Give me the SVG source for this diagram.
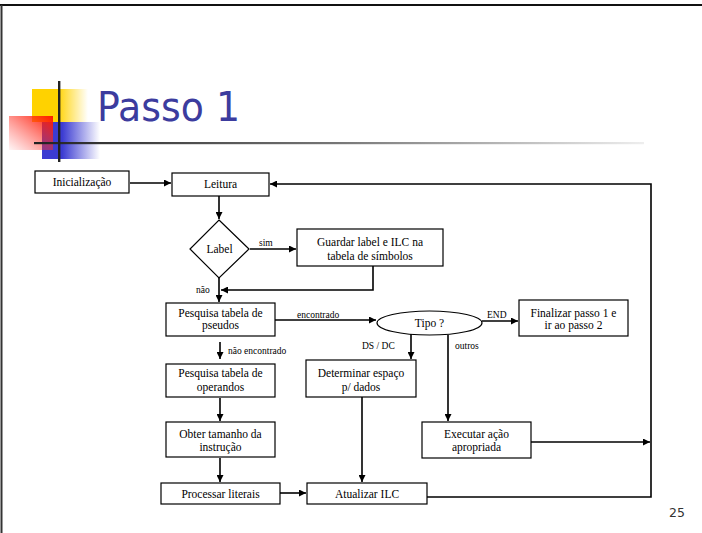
<svg xmlns="http://www.w3.org/2000/svg" width="702" height="533" viewBox="0 0 702 533">
<style>
.box{fill:#fff;stroke:#000;stroke-width:1.2}
.t{font-size:11.5px;fill:#000;text-anchor:middle}
.s{font-size:9.5px;fill:#000}
.c{fill:none;stroke:#000;stroke-width:1.6}
</style>
<defs>
<marker id="ah" viewBox="0 0 10 10" refX="10" refY="5" markerWidth="7" markerHeight="7" markerUnits="userSpaceOnUse" orient="auto">
<path d="M0,0 L10,5 L0,10 z" fill="#000"/>
</marker>
<linearGradient id="gy" x1="0" y1="0" x2="1" y2="0">
<stop offset="0" stop-color="#FFD200"/><stop offset="0.45" stop-color="#FFD200"/><stop offset="1" stop-color="#FFD200" stop-opacity="0"/>
</linearGradient>
<linearGradient id="gb" x1="0" y1="0" x2="1" y2="0">
<stop offset="0" stop-color="#3C3CD2"/><stop offset="0.35" stop-color="#3C3CD2"/><stop offset="1" stop-color="#3C3CD2" stop-opacity="0"/>
</linearGradient>
<linearGradient id="gr" x1="1" y1="0" x2="0" y2="1">
<stop offset="0" stop-color="#FF1A00"/><stop offset="1" stop-color="#FF4040" stop-opacity="0.05"/>
</linearGradient>
<linearGradient id="gl" x1="0" y1="0" x2="1" y2="0">
<stop offset="0" stop-color="#222"/><stop offset="0.5" stop-color="#777"/><stop offset="1" stop-color="#eee"/>
</linearGradient>
</defs>

<g id="frame">
<line x1="0" y1="5" x2="702" y2="5" stroke="#111" stroke-width="2"/>
<line x1="1.5" y1="5" x2="1.5" y2="533" stroke="#333" stroke-width="2"/>
</g>

<g id="title-deco">
<rect x="32" y="89" width="56" height="33" fill="url(#gy)"/>
<rect x="42" y="122" width="58" height="37" fill="url(#gb)"/>
<rect x="9" y="116" width="44" height="34" fill="url(#gr)"/>
<rect x="34" y="142" width="610" height="2.2" fill="url(#gl)"/>
<rect x="58" y="81" width="2.4" height="81" fill="#222"/>
<text x="97" y="121" font-family="DejaVu Sans, sans-serif" font-size="40" fill="#3C3C9E" textLength="143" lengthAdjust="spacingAndGlyphs">Passo 1</text>
</g>

<g font-family="Liberation Serif, DejaVu Serif, serif">
<g id="connectors">
<line class="c" x1="130" y1="183" x2="171" y2="183" marker-end="url(#ah)"/>
<polyline class="c" points="427,497 651,497 651,184 270,184" marker-end="url(#ah)"/>
<line class="c" x1="531" y1="442" x2="650" y2="442" marker-end="url(#ah)"/>
<line class="c" x1="219" y1="196" x2="219" y2="219" marker-end="url(#ah)"/>
<line class="c" x1="250" y1="249" x2="296" y2="249" marker-end="url(#ah)"/>
<polyline class="c" points="373,266 373,290 221,290" marker-end="url(#ah)"/>
<line class="c" x1="219" y1="278" x2="219" y2="302" marker-end="url(#ah)"/>
<line class="c" x1="275" y1="320" x2="376" y2="320" marker-end="url(#ah)"/>
<line class="c" x1="482" y1="321" x2="518" y2="321" marker-end="url(#ah)"/>
<line class="c" x1="411" y1="334" x2="411" y2="359" marker-end="url(#ah)"/>
<line class="c" x1="448" y1="335" x2="448" y2="421" marker-end="url(#ah)"/>
<line class="c" x1="220" y1="342" x2="220" y2="359" marker-end="url(#ah)"/>
<line class="c" x1="220" y1="398" x2="220" y2="421" marker-end="url(#ah)"/>
<line class="c" x1="220" y1="458" x2="220" y2="482" marker-end="url(#ah)"/>
<line class="c" x1="280" y1="493" x2="306" y2="493" marker-end="url(#ah)"/>
<line class="c" x1="362" y1="397" x2="362" y2="482" marker-end="url(#ah)"/>
<text class="s" x="259" y="246">sim</text>
<text class="s" x="196" y="293">não</text>
<text class="s" x="297" y="318">encontrado</text>
<text class="s" x="487" y="318">END</text>
<text class="s" x="362" y="349">DS / DC</text>
<text class="s" x="455" y="349">outros</text>
<text class="s" x="228" y="354">não encontrado</text>
</g>

<g id="inicializacao"><rect class="box" x="35" y="171" width="94" height="22"/><text class="t" x="82" y="186">Inicialização</text></g>
<g id="leitura"><rect class="box" x="172" y="173" width="97" height="23"/><text class="t" x="220.5" y="188">Leitura</text></g>
<g id="label"><polygon class="box" points="219,220 249,249 219,278 190,249"/><text class="t" x="219.5" y="253">Label</text></g>
<g id="guardar"><rect class="box" x="297" y="229" width="146" height="37"/><text class="t" x="370" y="246">Guardar label e ILC na</text><text class="t" x="370" y="260">tabela de símbolos</text></g>
<g id="pseudos"><rect class="box" x="166" y="303" width="109" height="33"/><text class="t" x="220.5" y="317">Pesquisa tabela de</text><text class="t" x="220.5" y="329">pseudos</text></g>
<g id="tipo"><ellipse class="box" cx="429.5" cy="323" rx="52.5" ry="12"/><text class="t" x="429.5" y="327">Tipo ?</text></g>
<g id="finalizar"><rect class="box" x="519" y="300" width="109" height="36"/><text class="t" x="573.5" y="317">Finalizar passo 1 e</text><text class="t" x="573.5" y="329">ir ao passo 2</text></g>
<g id="operandos"><rect class="box" x="166" y="364" width="109" height="33"/><text class="t" x="220.5" y="377">Pesquisa tabela de</text><text class="t" x="220.5" y="391">operandos</text></g>
<g id="determinar"><rect class="box" x="306" y="360" width="110" height="37"/><text class="t" x="361" y="377">Determinar espaço</text><text class="t" x="361" y="391">p/ dados</text></g>
<g id="obter"><rect class="box" x="166" y="422" width="109" height="35"/><text class="t" x="220.5" y="438">Obter tamanho da</text><text class="t" x="220.5" y="451">instrução</text></g>
<g id="executar"><rect class="box" x="422" y="422" width="109" height="36"/><text class="t" x="476.5" y="438">Executar ação</text><text class="t" x="476.5" y="451">apropriada</text></g>
<g id="processar"><rect class="box" x="161" y="483" width="119" height="21"/><text class="t" x="220.5" y="498">Processar literais</text></g>
<g id="atualizar"><rect class="box" x="307" y="483" width="120" height="21"/><text class="t" x="367" y="498">Atualizar ILC</text></g>
</g>

<text x="677" y="517" font-family="DejaVu Sans, sans-serif" font-size="12.5" fill="#333" text-anchor="middle">25</text>
</svg>
